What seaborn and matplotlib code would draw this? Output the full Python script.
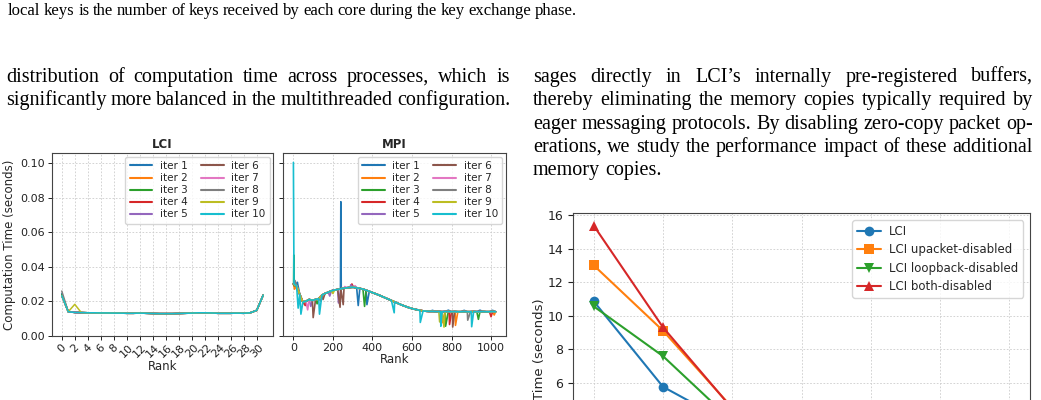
import matplotlib
matplotlib.use("Agg")
import numpy as np
import pandas as pd
import seaborn as sns
import matplotlib.pyplot as plt
from matplotlib.transforms import IdentityTransform

W, H = 1041, 400

# ---------------- data ----------------
iters = ['iter %d' % i for i in range(1, 11)]

# LCI: per-rank computation time, 32 ranks
lci_ranks = list(range(32))
lci_base = [0.0232, 0.0139, 0.0135, 0.0134, 0.0133, 0.0133, 0.0132, 0.0132,
            0.0131, 0.0131, 0.0130, 0.0130, 0.0131, 0.0130, 0.0129, 0.0128,
            0.0128, 0.0128, 0.0129, 0.0130, 0.0131, 0.0133, 0.0133, 0.0132,
            0.0130, 0.0130, 0.0130, 0.0131, 0.0130, 0.0133, 0.0147, 0.0236]
lci_tweaks = {'iter 1': {0: 0.0245}, 'iter 3': {0: 0.0238},
              'iter 8': {0: 0.0259}, 'iter 9': {2: 0.0182}}

# MPI: per-rank computation time, 1024 ranks (read every 16 ranks)
mpi_base_ranks = list(range(0, 1024, 16)) + [1023]
mpi_base = [0.0300, 0.0290, 0.0240, 0.0195, 0.0200, 0.0210, 0.0205, 0.0210,
            0.0215, 0.0235, 0.0245, 0.0252, 0.0260, 0.0265, 0.0268, 0.0272,
            0.0276, 0.0278, 0.0280, 0.0281, 0.0278, 0.0274, 0.0270, 0.0264,
            0.0257, 0.0250, 0.0243, 0.0236, 0.0228, 0.0220, 0.0212, 0.0204,
            0.0196, 0.0188, 0.0180, 0.0173, 0.0166, 0.0160, 0.0155, 0.0151,
            0.0147, 0.0144, 0.0142, 0.0141, 0.0141, 0.0140, 0.0140, 0.0139,
            0.0140, 0.0140, 0.0139, 0.0140, 0.0139, 0.0139, 0.0140, 0.0139,
            0.0139, 0.0140, 0.0139, 0.0139, 0.0140, 0.0139, 0.0139, 0.0140,
            0.0139]
# spikes / dips of individual iterations (rank: seconds)
mpi_tweaks = {
    'iter 1': {20: 0.0310, 238: 0.0270, 240: 0.0777, 242: 0.0272, 328: 0.0175,
               372: 0.0180, 704: 0.0147, 784: 0.0148, 864: 0.0147, 944: 0.0148,
               1008: 0.0147},
    'iter 2': {6: 0.0270, 300: 0.0286, 750: 0.0140, 752: 0.0075, 818: 0.0140,
               820: 0.0060, 1016: 0.0120},
    'iter 3': {1: 0.0300, 2: 0.0468, 4: 0.0290, 120: 0.0185, 360: 0.0170,
               768: 0.0140, 770: 0.0055, 936: 0.0095},
    'iter 4': {60: 0.0175, 296: 0.0300, 788: 0.0140, 790: 0.0065, 1000: 0.0110},
    'iter 5': {88: 0.0170, 184: 0.0230, 228: 0.0190, 290: 0.0295},
    'iter 6': {100: 0.0105, 150: 0.0210, 236: 0.0165, 252: 0.0180,
               804: 0.0140, 806: 0.0050},
    'iter 7': {72: 0.0150, 260: 0.0285, 312: 0.0290},
    'iter 8': {8: 0.0320, 140: 0.0200, 882: 0.0090},
    'iter 9': {200: 0.0245, 740: 0.0080, 762: 0.0050},
    'iter 10': {0: 0.1005, 3: 0.0300, 24: 0.0160, 38: 0.0125, 132: 0.0125,
                510: 0.0133, 642: 0.0077, 744: 0.0140, 746: 0.0055,
                900: 0.0140, 902: 0.0052},
}

# zero-copy ablation
nodes = [1, 2, 4, 8, 16, 32, 64]
configs = ['LCI', 'LCI upacket-disabled', 'LCI loopback-disabled', 'LCI both-disabled']
t_lci = [10.85, 5.75, 3.50, 2.20, 1.40, 0.90, 0.60]
t_upacket = [13.00, 9.10, 4.50, 2.80, 1.70, 1.10, 0.80]
t_loopback = [10.55, 7.58, 3.70, 2.40, 1.50, 1.00, 0.70]
t_both = [15.37, 9.30, 4.45, 2.90, 1.80, 1.20, 0.90]

caption_line = "local keys is the number of keys received by each core during the key exchange phase."
left_lines = ["distribution of computation time across processes, which is",
              "significantly more balanced in the multithreaded configuration."]
right_lines = ["sages directly in LCI\u2019s internally pre-registered buffers,",
               "thereby eliminating the memory copies typically required by",
               "eager messaging protocols. By disabling zero-copy packet op-",
               "erations, we study the performance impact of these additional",
               "memory copies."]

# ---------------- long tables ----------------
rows = []
for it in iters:
    vals = dict(zip(lci_ranks, lci_base))
    vals.update(lci_tweaks.get(it, {}))
    for r in sorted(vals):
        rows.append((it, r, vals[r]))
lci_df = pd.DataFrame(rows, columns=['iter', 'rank', 'time'])

rows = []
for it in iters:
    vals = dict(zip(mpi_base_ranks, mpi_base))
    vals.update(mpi_tweaks.get(it, {}))
    for r in sorted(vals):
        rows.append((it, r, vals[r]))
mpi_df = pd.DataFrame(rows, columns=['iter', 'rank', 'time'])

zc_df = pd.DataFrame({
    'nodes': nodes * 4,
    'time': t_lci + t_upacket + t_loopback + t_both,
    'config': sum([[c] * len(nodes) for c in configs], []),
})

# ---------------- figure ----------------
sns.set_style("ticks")
plt.rcParams['font.family'] = ['DejaVu Sans']
plt.rcParams['axes.edgecolor'] = '#444444'
plt.rcParams['xtick.color'] = '#222222'
plt.rcParams['ytick.color'] = '#222222'

fig = plt.figure(figsize=(W / 100, H / 100), dpi=100)
renderer = fig.canvas.get_renderer()

pal = sns.color_palette('tab10', 10)
grid_kw = dict(color='#cccccc', linestyle=(0, (2, 2)), linewidth=0.6)

ax1 = fig.add_axes([51.7 / W, 1 - 335.7 / H, (273.3 - 51.7) / W, (335.7 - 153.3) / H])
ax2 = fig.add_axes([283.3 / W, 1 - 335.7 / H, (505.7 - 283.3) / W, (335.7 - 153.3) / H],
                   sharey=ax1)

sns.lineplot(data=lci_df, x='rank', y='time', hue='iter', hue_order=iters,
             palette=pal, estimator=None, linewidth=1.1, ax=ax1)
sns.lineplot(data=mpi_df, x='rank', y='time', hue='iter', hue_order=iters,
             palette=pal, estimator=None, linewidth=1.2, ax=ax2)

ax1.set_xticks(range(0, 32, 2))
ax1.tick_params(axis='x', labelrotation=45)
ax1.set_ylim(0, 0.1058)
ax2.tick_params(axis='y', labelleft=False)
for ax, title in [(ax1, 'LCI'), (ax2, 'MPI')]:
    ax.set_title(title, fontsize=8.5, fontweight='bold', pad=4)
    ax.set_xlabel('Rank', fontsize=8.5, labelpad=0)
    ax.tick_params(labelsize=8, length=3, width=0.7, pad=2)
    ax.grid(True, **grid_kw)
    h, l = ax.get_legend_handles_labels()
    ax.legend(h, l, ncol=2, loc='upper right', fontsize=7.5, handlelength=2.2,
              columnspacing=1.3, labelspacing=0.2, handletextpad=0.7,
              borderaxespad=0.35)
    for line in ax.get_legend().get_lines():
        line.set_linewidth(1.5)
ax1.set_ylabel('Computation Time (seconds)', fontsize=8.5, labelpad=3)
ax2.set_ylabel('')

# zero-copy chart, cut by the bottom of the page
ax3 = fig.add_axes([573 / W, 0.0, (1030 - 573) / W, 0.5])
sns.lineplot(data=zc_df, x='nodes', y='time', hue='config', style='config',
             hue_order=configs, style_order=configs, palette=pal[:4],
             markers={'LCI': 'o', 'LCI upacket-disabled': 's',
                      'LCI loopback-disabled': 'v', 'LCI both-disabled': '^'},
             dashes=False, markersize=7, markeredgewidth=0, linewidth=1.5, ax=ax3)
ax3.set_xscale('log', base=2)
ax3.set_xticks(nodes)
ax3.set_xticklabels([])
ax3.set_xlabel('')
ax3.grid(True, **grid_kw)
ax3.tick_params(labelsize=9, length=3.5, width=0.8)
ax3.set_ylabel('Time (seconds)', fontsize=9.5, labelpad=1)
h, l = ax3.get_legend_handles_labels()
ax3.legend(h, l, loc='upper right', fontsize=8.5, labelspacing=0.45,
           handlelength=2.0, handletextpad=0.7, borderaxespad=0.6)
y0, y1 = ax3.get_ylim()
px_per_unit = 16.75
h_px = (y1 - y0) * px_per_unit
top_px = 213.3
ax3.set_position([573 / W, (H - top_px - h_px) / H, (1030 - 573) / W, h_px / H])
ax3.set_yticks([t for t in range(0, 17, 2) if (top_px + (y1 - t) * px_per_unit) < H - 6])


# ---------------- page text ----------------
def put_line(text, x0, y_base, size, x1=None):
    words = text.split()
    objs = [fig.text(0, 0, w, fontsize=size, family=['Liberation Serif', 'DejaVu Serif'],
                     color='black', transform=IdentityTransform(), va='baseline',
                     ha='left') for w in words]
    widths = [o.get_window_extent(renderer).width for o in objs]
    if x1 is None or len(words) < 2:
        gap = 0.25 * size * 100 / 72
    else:
        gap = (x1 - x0 - sum(widths)) / (len(words) - 1)
    x = x0
    for o, w in zip(objs, widths):
        o.set_position((x, H - y_base))
        x += w + gap


body_size = 14.5
put_line(caption_line, 8, 15, 12.0, 577)
baselines = [82, 105.3, 128.7, 152, 175.3]
for i, line in enumerate(left_lines):
    put_line(line, 6, baselines[i], body_size, 510)
for i, line in enumerate(right_lines):
    put_line(line, 533, baselines[i], body_size, 1033 if i < len(right_lines) - 1 else None)

fig.savefig('out.png', dpi=100)
